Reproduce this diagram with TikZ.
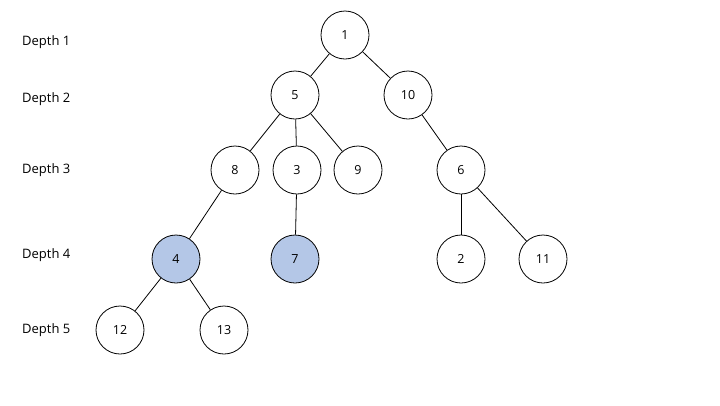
\documentclass[tikz,border=0pt]{standalone}
\usepackage{fontspec}
\setmainfont{Open Sans}
\usepackage{xcolor}
\usepackage{tikz}
\usetikzlibrary{positioning}

\definecolor{hlblue}{HTML}{B4C7E7}

\tikzset{
  vert/.style={circle, draw, line width=0.8pt, fill=white, minimum size=48pt, inner sep=0pt, font=\fontsize{12.5}{14}\selectfont},
  marked/.style={vert, fill=hlblue},
  depthlbl/.style={anchor=west, inner sep=0pt, font=\fontsize{13}{15}\selectfont},
  edge/.style={line width=0.8pt}
}

\begin{document}
\begin{tikzpicture}[x=1pt, y=-1pt]
  \useasboundingbox (0,0) rectangle (720,405);

  % Depth labels
  \node[depthlbl] (d1) at (22, 42) {Depth 1};
  \node[depthlbl] (d2) at (22, 99) {Depth 2};
  \node[depthlbl] (d3) at (22, 170) {Depth 3};
  \node[depthlbl] (d4) at (22, 255) {Depth 4};
  \node[depthlbl] (d5) at (22, 330) {Depth 5};

  % Depth 1
  \node[vert] (n1) at (345, 35) {1};

  % Depth 2
  \node[vert] (n5) at (295, 95) {5};
  \node[vert] (n10) at (408, 95) {10};

  % Depth 3
  \node[vert] (n8) at (235, 170) {8};
  \node[vert] (n3) at (297, 170) {3};
  \node[vert] (n9) at (358, 170) {9};
  \node[vert] (n6) at (461, 170) {6};

  % Depth 4
  \node[marked] (n4) at (176, 259) {4};
  \node[marked] (n7) at (295, 259) {7};
  \node[vert] (n2) at (461, 259) {2};
  \node[vert] (n11) at (543, 259) {11};

  % Depth 5
  \node[vert] (n12) at (120, 330) {12};
  \node[vert] (n13) at (224, 330) {13};

  % Edges
  \draw[edge] (n1) -- (n5);
  \draw[edge] (n1) -- (n10);
  \draw[edge] (n5) -- (n8);
  \draw[edge] (n5) -- (n3);
  \draw[edge] (n5) -- (n9);
  \draw[edge] (n10) -- (n6);
  \draw[edge] (n8) -- (n4);
  \draw[edge] (n3) -- (n7);
  \draw[edge] (n6) -- (n2);
  \draw[edge] (n6) -- (n11);
  \draw[edge] (n4) -- (n12);
  \draw[edge] (n4) -- (n13);
\end{tikzpicture}
\end{document}
